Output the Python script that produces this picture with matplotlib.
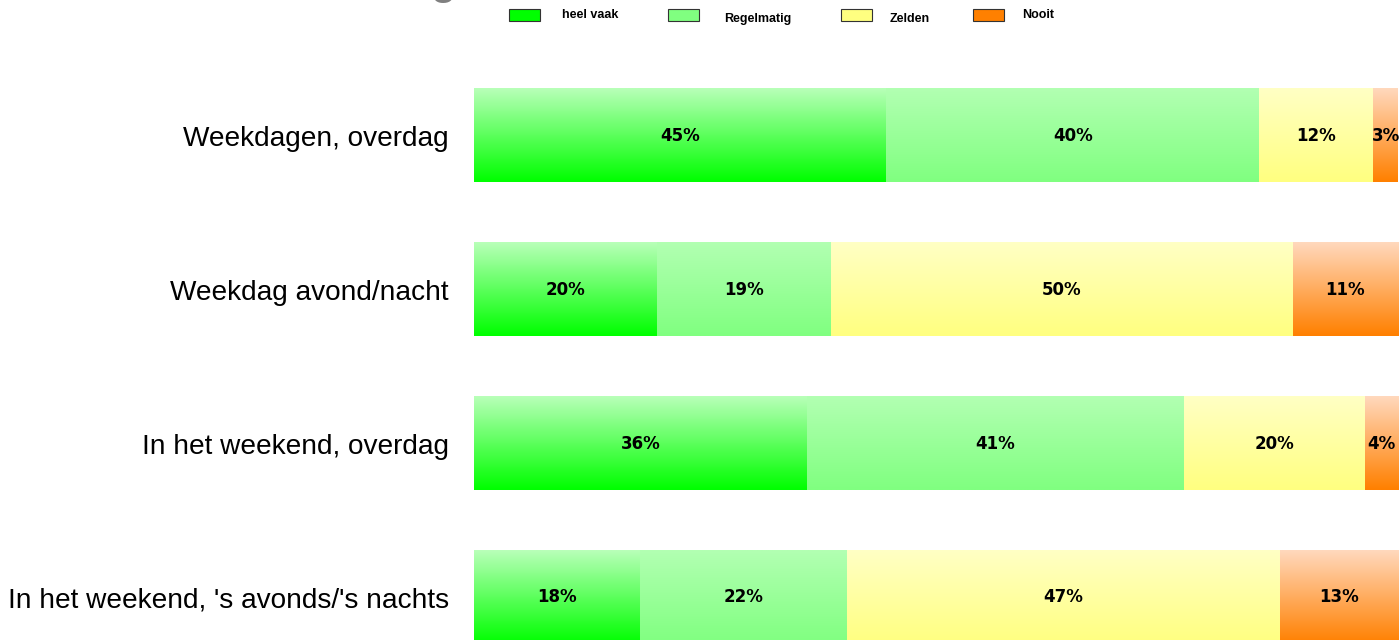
import matplotlib.pyplot as plt
import numpy as np
from matplotlib.colors import LinearSegmentedColormap
from matplotlib.patches import Rectangle

# Data (shares in %)
categories = ['Weekdagen, overdag', 'Weekdag avond/nacht',
              'In het weekend, overdag', "In het weekend, 's avonds/'s nachts"]
series = ['heel vaak', 'Regelmatig', 'Zelden', 'Nooit']
heel_vaak = [44.6, 19.8, 36.0, 18.0]
regelmatig = [40.4, 18.8, 40.8, 22.4]
zelden = [12.3, 50.0, 19.6, 46.8]
nooit = [2.7, 11.4, 3.6, 12.8]

# gradient (top, bottom) and legend colour per series
grad = [('#b8ffb8', '#00ff00'), ('#b2ffb2', '#80ff80'),
        ('#ffffc4', '#ffff80'), ('#ffd8bc', '#ff8000')]
legend_col = ['#00ff00', '#80ff80', '#ffff80', '#ff8000']

W, H = 1400, 640
fig = plt.figure(figsize=(14, 6.4), dpi=100)
ax = fig.add_axes([474 / W, 0, 924 / W, 1])

bar_h = 0.604
grad_img = np.linspace(0, 1, 64).reshape(-1, 1)
values = np.array([heel_vaak, regelmatig, zelden, nooit])
for i in range(len(categories)):
    left = 0
    for j in range(len(series)):
        v = values[j, i]
        cmap = LinearSegmentedColormap.from_list('g%d' % j, grad[j])
        ax.imshow(grad_img, cmap=cmap, aspect='auto', interpolation='bilinear',
                  extent=[left, left + v, i + bar_h / 2, i - bar_h / 2])
        ax.text(left + v / 2, i, '%.0f%%' % v, ha='center', va='center',
                fontsize=12, fontweight='bold', family='DejaVu Sans', color='black')
        left += v

ax.set_xlim(0, 100)
ax.set_ylim(3.276, -0.88)
ax.set_yticks(range(len(categories)))
ax.set_yticklabels(categories, family='Liberation Sans', fontsize=20.2)
ax.tick_params(axis='y', length=0, pad=18)
ax.set_xticks([])
for s in ax.spines.values():
    s.set_visible(False)

# legend, drawn by hand to keep the original's spacing
patch_x = [509, 668, 841, 973]
text_x = [562, 724, 890, 1022]
text_y = [15, 19, 19, 15]
for k in range(len(series)):
    fig.add_artist(Rectangle((patch_x[k] / W, 1 - 21 / H), 31 / W, 12 / H,
                             transform=fig.transFigure, facecolor=legend_col[k],
                             edgecolor='#333333', lw=0.8))
    fig.text(text_x[k] / W, 1 - text_y[k] / H, series[k], ha='left', va='center',
             fontsize=9, fontweight='bold', family='Liberation Sans')

# remains of a title cut off at the top edge
fig.text(430 / W, 1 + 6 / H, 'g', ha='left', va='baseline', fontsize=30,
         fontweight='bold', color='#808080', family='Liberation Sans')

fig.savefig('out.png', dpi=100)
